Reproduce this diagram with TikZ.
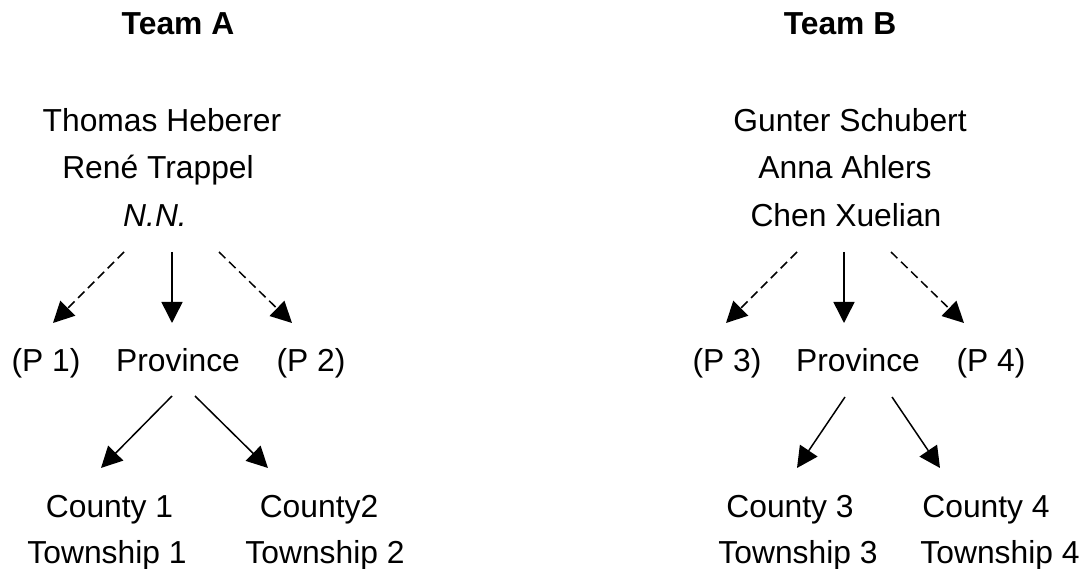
\documentclass[tikz,border=0pt]{standalone}
\usepackage{fontspec}
\setmainfont{Liberation Sans}
\usetikzlibrary{arrows.meta}
\tikzset{
  lbl/.style={anchor=base, inner sep=0pt, font=\fontsize{31.8}{38}\selectfont},
  head/.style={lbl, font=\fontsize{31.8}{38}\selectfont\bfseries},
  link/.style={line width=1.5pt, -{Triangle[length=21pt,width=21pt]}},
  dlink/.style={link, dash pattern=on 9pt off 5pt},
}
\begin{document}
\begin{tikzpicture}[x=1pt,y=-1pt]
\useasboundingbox (0,0) rectangle (1085,569);
% Team A
\node[head] (teamA) at (178,35) {Team A};
\node[lbl] (a1) at (162,132) {Thomas Heberer};
\node[lbl] (a2) at (158,179) {René Trappel};
\node[lbl] (a3) at (155,227) {\itshape N.N.};
\node[lbl] (ap1) at (46,372) {(P 1)};
\node[lbl] (aprov) at (178,372) {Province};
\node[lbl] (ap2) at (311,372) {(P 2)};
\node[lbl] (ac1) at (109.5,517) {County 1};
\node[lbl] (ac2) at (319,517) {County2};
\node[lbl] (at1) at (107,563) {Township 1};
\node[lbl] (at2) at (325,563) {Township 2};
\draw[dlink] ([shift={(-31,25)}]a3.base) -- ([shift={(7,-49)}]ap1.base);
\draw[link] ([shift={(17,25)}]a3.base) -- ([shift={(-6,-49)}]aprov.base);
\draw[dlink] ([shift={(64,25)}]a3.base) -- ([shift={(-19,-49)}]ap2.base);
\draw[link] ([shift={(-6,24)}]aprov.base) -- ([shift={(-8.5,-49)}]ac1.base);
\draw[link] ([shift={(17,24)}]aprov.base) -- ([shift={(-51,-49)}]ac2.base);
% Team B
\node[head] (teamB) at (840,35) {Team B};
\node[lbl] (b1) at (850,132) {Gunter Schubert};
\node[lbl] (b2) at (845,179) {Anna Ahlers};
\node[lbl] (b3) at (846,227) {Chen Xuelian};
\node[lbl] (bp3) at (727,372) {(P 3)};
\node[lbl] (bprov) at (858,372) {Province};
\node[lbl] (bp4) at (991,372) {(P 4)};
\node[lbl] (bc3) at (790,517) {County 3};
\node[lbl] (bc4) at (986,517) {County 4};
\node[lbl] (bt3) at (798,563) {Township 3};
\node[lbl] (bt4) at (1000,563) {Township 4};
\draw[dlink] ([shift={(-49,25)}]b3.base) -- ([shift={(-1,-49)}]bp3.base);
\draw[link] ([shift={(-2,25)}]b3.base) -- ([shift={(-14,-49)}]bprov.base);
\draw[dlink] ([shift={(45,25)}]b3.base) -- ([shift={(-27,-49)}]bp4.base);
\draw[link] ([shift={(-13,25)}]bprov.base) -- ([shift={(7,-49)}]bc3.base);
\draw[link] ([shift={(34,25)}]bprov.base) -- ([shift={(-46,-49)}]bc4.base);
\end{tikzpicture}
\end{document}
